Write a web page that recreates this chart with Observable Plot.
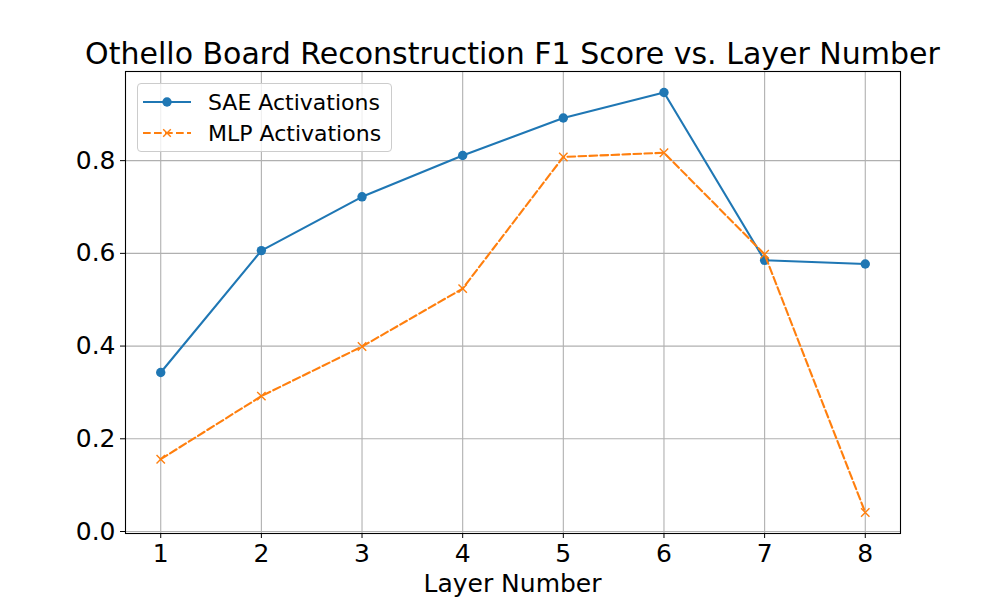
<!DOCTYPE html>
<html>
<head>
<meta charset="utf-8">
<script src="https://cdn.jsdelivr.net/npm/d3@7"></script>
<script src="https://cdn.jsdelivr.net/npm/@observablehq/plot@0.6"></script>
<style>
  html, body { margin: 0; padding: 0; background: #fff; }
  #wrap { position: relative; width: 1000px; height: 599px; font-family: "DejaVu Sans", sans-serif; overflow: hidden; }
  #title { position: absolute; left: 0; width: 1025px; top: 38.6px; text-align: center; font-size: 30px; line-height: 30px; color: #000; white-space: nowrap; }
  #xlabel { position: absolute; left: 0; width: 1025px; top: 571px; text-align: center; font-size: 25px; line-height: 25px; color: #000; white-space: nowrap; }
  #legend { position: absolute; left: 137px; top: 83px; width: 255px; height: 69px; box-sizing: border-box; border: 1px solid #cccccc; border-radius: 4px; background: rgba(255,255,255,0.8); }
  .row { position: absolute; left: 0; height: 30px; display: flex; align-items: center; font-size: 22px; color: #000; white-space: nowrap; }
  .row svg { margin-left: 5px; margin-right: 17px; }
</style>
</head>
<body>
<div id="wrap">
  <div id="chart"></div>
  <div id="title"></div>
  <div id="xlabel"></div>
  <div id="legend"></div>
</div>
<script>
const layers = [1, 2, 3, 4, 5, 6, 7, 8];
const saeValues = [0.343, 0.606, 0.722, 0.811, 0.892, 0.947, 0.585, 0.577];
const mlpValues = [0.156, 0.292, 0.399, 0.524, 0.808, 0.817, 0.598, 0.041];
const seriesNames = ["SAE Activations", "MLP Activations"];
const seriesColors = ["#1f77b4", "#ff7f0e"];
const yTicks = [0, 0.2, 0.4, 0.6, 0.8];
const titleText = "Othello Board Reconstruction F1 Score vs. Layer Number";
const xLabel = "Layer Number";

const sae = layers.map((l, i) => ({layer: l, value: saeValues[i]}));
const mlp = layers.map((l, i) => ({layer: l, value: mlpValues[i]}));

const all = saeValues.concat(mlpValues);
const yMin = d3.min(all), yMax = d3.max(all), yPad = (yMax - yMin) * 0.05;
const xPad = (d3.max(layers) - d3.min(layers)) * 0.05;

const chart = Plot.plot({
  width: 1000,
  height: 599,
  marginLeft: 125,
  marginRight: 100,
  marginTop: 71,
  marginBottom: 66,
  style: {fontFamily: "DejaVu Sans, sans-serif", fontSize: "25px", color: "#000", background: "transparent"},
  x: {domain: [d3.min(layers) - xPad, d3.max(layers) + xPad]},
  y: {domain: [yMin - yPad, yMax + yPad]},
  marks: [
    Plot.gridX(layers, {stroke: "#b0b0b0", strokeOpacity: 1, strokeWidth: 1.1}),
    Plot.gridY(yTicks, {stroke: "#b0b0b0", strokeOpacity: 1, strokeWidth: 1.1}),
    Plot.axisX(layers, {tickSize: 5, tickPadding: 6, tickFormat: "d", fontSize: 25, label: null}),
    Plot.axisY(yTicks, {tickSize: 5, tickPadding: 5, tickFormat: ".1f", fontSize: 25, label: null}),
    Plot.line(sae, {x: "layer", y: "value", stroke: seriesColors[0], strokeWidth: 2.1}),
    Plot.dot(sae, {x: "layer", y: "value", fill: seriesColors[0], r: 4.7, symbol: "circle"}),
    Plot.line(mlp, {x: "layer", y: "value", stroke: seriesColors[1], strokeWidth: 2.1, strokeDasharray: "7.7,3.3"}),
    Plot.dot(mlp, {x: "layer", y: "value", stroke: seriesColors[1], r: 3.9, symbol: "times", strokeWidth: 1.4}),
    Plot.frame({stroke: "#000", strokeWidth: 1.1})
  ]
});
document.getElementById("chart").appendChild(chart);
document.getElementById("title").textContent = titleText;
document.getElementById("xlabel").textContent = xLabel;

const legend = document.getElementById("legend");
seriesNames.forEach((name, i) => {
  const row = document.createElement("div");
  row.className = "row";
  row.style.top = (3 + i * 31) + "px";
  const c = seriesColors[i];
  const marker = i === 0
    ? `<circle cx="24" cy="15" r="4.7" fill="${c}"/>`
    : `<path d="M20.2,11.2L27.8,18.8M20.2,18.8L27.8,11.2" stroke="${c}" stroke-width="1.4"/>`;
  const dash = i === 0 ? "" : `stroke-dasharray="7.7,3.3"`;
  row.innerHTML = `<svg width="48" height="30"><line x1="0" x2="48" y1="15" y2="15" stroke="${c}" stroke-width="2.1" ${dash}/>${marker}</svg><span>${name}</span>`;
  legend.appendChild(row);
});
</script>
</body>
</html>
